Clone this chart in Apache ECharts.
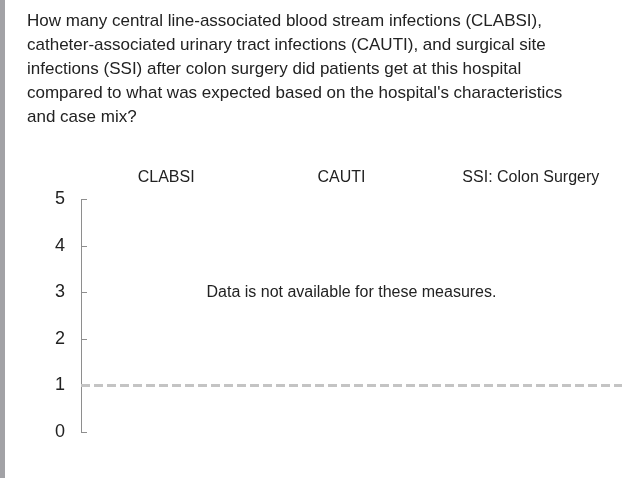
<!DOCTYPE html>
<html>
<head>
    <meta charset="utf-8">
    <title>ECharts</title>
    <script src="https://cdn.jsdelivr.net/npm/echarts@6/dist/echarts.min.js"></script>
    <style type="text/css">
        html, body {
            margin: 0;
            height: 100%;
            background: #fff;
        }
    </style>
</head>
<body>
<div id="main" style="width: 642px;height:487px;"></div>
<script type="text/javascript">
    var FONT = '"Liberation Sans", Arial, sans-serif';

    // 数据
    var titleLines = [
        'How many central line-associated blood stream infections (CLABSI),',
        'catheter-associated urinary tract infections (CAUTI), and surgical site',
        'infections (SSI) after colon surgery did patients get at this hospital',
        'compared to what was expected based on the hospital\'s characteristics',
        'and case mix?'
    ];
    var measures = ['CLABSI', 'CAUTI', 'SSI: Colon Surgery'];
    var ratios = ['-', '-', '-'];          // 无数据
    var expected = 1;
    var yMin = 0, yMax = 5, yStep = 1;
    var noDataText = 'Data is not available for these measures.';

    var myChart = echarts.init(document.getElementById('main'), null, {renderer: 'canvas'});

    // 标签略微左移
    var labelKeys = ['m0', 'm1', 'm2'];

    var option = {
        animation: false,
        textStyle: {fontFamily: FONT},
        title: {
            text: titleLines.join('\n'),
            left: 22,
            top: 4,
            textStyle: {
                fontFamily: FONT,
                fontSize: 17,
                fontWeight: 'normal',
                color: '#222',
                lineHeight: 24
            }
        },
        graphic: [{
            type: 'rect',
            left: 0,
            top: 0,
            shape: {width: 5, height: 478},
            style: {fill: '#a2a2a6'}
        }],
        grid: {
            left: 81,
            right: 20,
            top: 199.5,
            bottom: 55
        },
        xAxis: {
            type: 'category',
            position: 'top',
            data: measures,
            axisLine: {show: false},
            axisTick: {show: false},
            axisLabel: {
                interval: 0,
                margin: 14,
                fontSize: 16,
                color: '#222',
                fontFamily: FONT,
                formatter: function (value, idx) {
                    return '{' + labelKeys[idx] + '|' + value + '}';
                },
                rich: {
                    m0: {fontSize: 16, color: '#222', padding: [0, 10, 0, 0]},
                    m1: {fontSize: 16, color: '#222', padding: [0, 20, 0, 0]},
                    m2: {fontSize: 16, color: '#222', padding: [0, 2, 0, 0]}
                }
            }
        },
        yAxis: {
            type: 'value',
            min: yMin,
            max: yMax,
            interval: yStep,
            splitLine: {show: false},
            axisLine: {show: true, lineStyle: {color: '#8e8e8e', width: 1}},
            axisTick: {show: true, inside: true, length: 6, lineStyle: {color: '#8e8e8e'}},
            axisLabel: {
                margin: 16,
                fontSize: 18,
                color: '#222',
                fontFamily: FONT
            }
        },
        series: [{
            name: 'SIR',
            type: 'bar',
            data: ratios,
            markLine: {
                silent: true,
                symbol: 'none',
                label: {show: false},
                lineStyle: {color: '#c4c4c4', type: [9, 4], width: 3},
                data: [{yAxis: expected}]
            }
        }, {
            name: 'note',
            type: 'scatter',
            symbolSize: 0,
            silent: true,
            itemStyle: {opacity: 1},
            data: [[measures[1], 3]],
            label: {
                show: true,
                position: 'inside',
                formatter: noDataText,
                fontSize: 16,
                color: '#222',
                fontFamily: FONT
            }
        }]
    };

    myChart.setOption(option);
</script>
</body>
</html>
